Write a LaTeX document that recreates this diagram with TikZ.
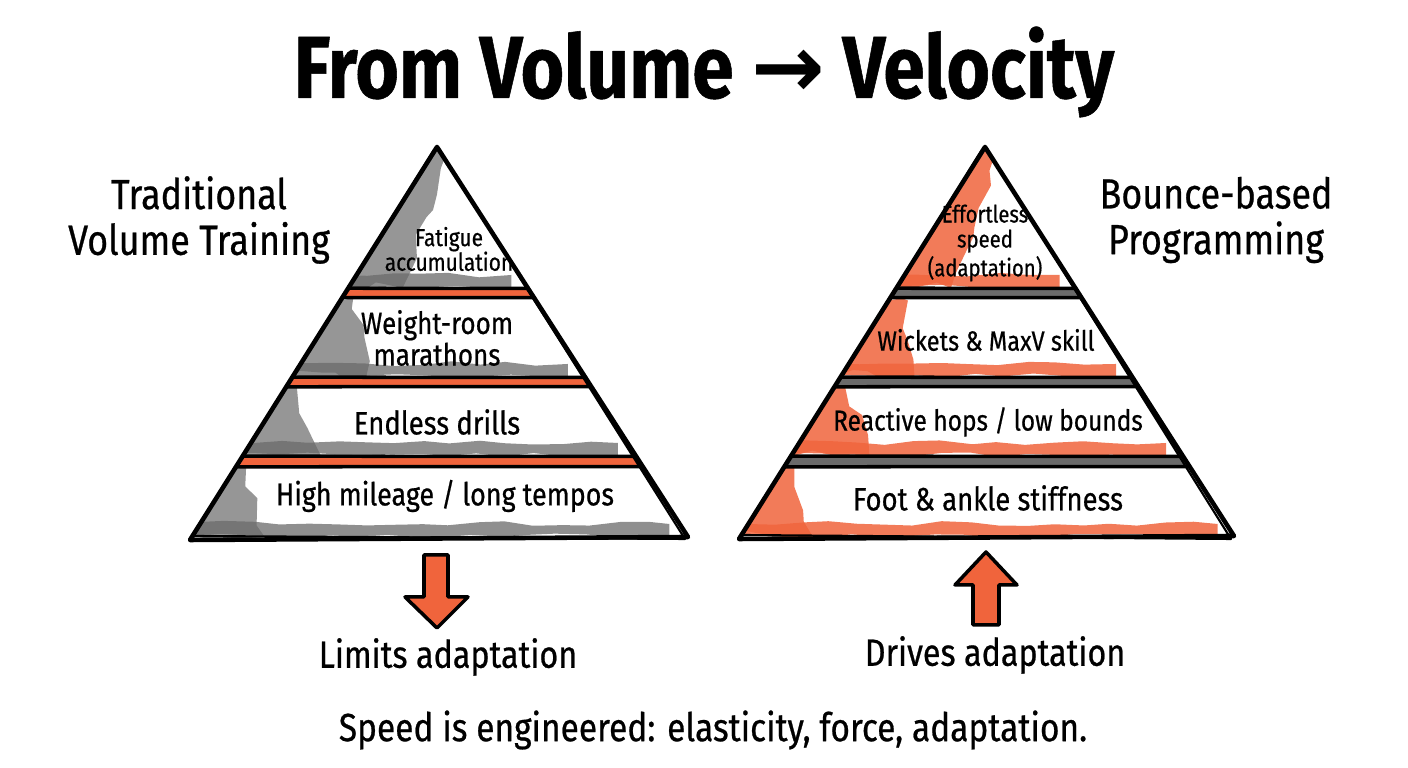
\documentclass[tikz,border=0pt]{standalone}
\usepackage{fontspec}
\setmainfont{Fira Sans}[FakeStretch=0.85, FakeBold=0.6]
\newfontfamily\arrowfont{DejaVu Sans}
\usetikzlibrary{decorations.pathmorphing}
\definecolor{brush}{HTML}{F0643C}
\definecolor{ink}{HTML}{6A6A6A}

\begin{document}
\begin{tikzpicture}[x=0.01cm, y=-0.01cm, line cap=round, line join=round,
  layer/.style={font=\fontsize{9}{10.5}\selectfont, align=center},
  side/.style={font=\fontsize{12}{13}\selectfont, align=center},
  note/.style={font=\fontsize{10.8}{13}\selectfont},
  rough/.style={decorate, decoration={random steps, segment length=5pt, amplitude=2pt}},
  smear/.style={decorate, decoration={random steps, segment length=8pt, amplitude=.7pt}},
  outline/.style={line width=1.3pt, black}]
\useasboundingbox (0,0) rectangle (1408,768);

% title
\node[font=\bfseries\fontsize{25}{30}\selectfont] (title) at (704,72) {From Volume {\arrowfont →} Velocity};

% left pyramid: traditional volume
\begin{scope}
\clip (437,147) -- (189,538) -- (686,538) -- cycle;
\foreach \t/\b/\w in {147/288/55, 298/377/75, 387/456/80, 467/537/75}{
  \fill[ink, opacity=.7, rough] (0,\t) -- (0,\b) -- ({437-0.634*(\b-147)+\w},\b) -- ({437-0.634*(\t-147)+12},\t) -- cycle;
  \fill[ink, opacity=.75, smear] (0,\b-14) -- ({437+0.634*(\b-147)-15},\b-13) -- ({437+0.634*(\b-147)-15},\b-1) -- (0,\b-1) -- cycle;
}
\foreach \t/\b in {288/298, 377/387, 456/467}{
  \fill[brush] (0,\t) rectangle (1408,\b);
  \draw[line width=1pt] (0,\t) -- (1408,\t+1);
  \draw[line width=1pt] (0,\b) -- (1408,\b-1);
}
\end{scope}
\draw[outline] (437,147) -- (190,540) -- (688,537) -- cycle;
\draw[line width=.6pt] (434,150) -- (193,536) -- (685,539) -- (439,149);

% right pyramid: bounce-based
\begin{scope}[xshift=5.48cm]
\clip (437,147) -- (189,538) -- (686,538) -- cycle;
\foreach \t/\b/\w in {147/288/55, 298/377/75, 387/456/80, 467/537/75}{
  \fill[brush, opacity=.85, rough] (0,\t) -- (0,\b) -- ({437-0.634*(\b-147)+\w},\b) -- ({437-0.634*(\t-147)+12},\t) -- cycle;
  \fill[brush, opacity=.85, smear] (0,\b-14) -- ({437+0.634*(\b-147)-15},\b-13) -- ({437+0.634*(\b-147)-15},\b-1) -- (0,\b-1) -- cycle;
}
\foreach \t/\b in {288/298, 377/387, 456/467}{
  \fill[ink] (0,\t) rectangle (1408,\b);
  \draw[line width=1pt] (0,\t) -- (1408,\t+1);
  \draw[line width=1pt] (0,\b) -- (1408,\b-1);
}
\end{scope}
\draw[outline] (985,147) -- (739,539) -- (1234,536) -- cycle;
\draw[line width=.6pt] (982,150) -- (742,535) -- (1231,539) -- (987,149);

% layer labels
\node[layer, font=\fontsize{7}{7}\selectfont] (fatigue) at (449,249) {Fatigue\\accumulation};
\node[layer, font=\fontsize{8.7}{9}\selectfont] (weight) at (437,338) {Weight-room\\marathons};
\node[layer, font=\fontsize{9.2}{10}\selectfont] (drills) at (437,422) {Endless drills};
\node[layer, font=\fontsize{9}{10}\selectfont] (mileage) at (445,496) {High mileage / long tempos};

\node[layer, font=\fontsize{6.8}{7.1}\selectfont] (effortless) at (985,243) {Effortless\\speed\\(adaptation)};
\node[layer, font=\fontsize{7.9}{9}\selectfont] (wickets) at (986,340) {Wickets \& MaxV skill};
\node[layer, font=\fontsize{8.2}{9}\selectfont] (hops) at (988,422) {Reactive hops / low bounds};
\node[layer, font=\fontsize{9.2}{10}\selectfont] (stiffness) at (988,498) {Foot \& ankle stiffness};

% side headings
\node[side] (trad) at (199,220) {Traditional\\Volume Training};
\node[side] (bounce) at (1216,220) {Bounce-based\\Programming};

% block arrows
\filldraw[fill=brush, draw=black, line width=1pt] (424,555) -- (448,555) -- (448,597) -- (468,597)
  -- (437,628) -- (405,597) -- (424,597) -- cycle;
\filldraw[fill=brush, draw=black, line width=1pt] (973,625) -- (999,625) -- (999,585) -- (1017,585)
  -- (986,552) -- (955,585) -- (973,585) -- cycle;

\node[note] (limits) at (448,657) {Limits adaptation};
\node[note] (drives) at (995,655) {Drives adaptation};

% bottom line
\node[note, font=\fontsize{11.2}{13}\selectfont] (summary) at (713,730) {Speed is engineered: elasticity, force, adaptation.};
\end{tikzpicture}
\end{document}
